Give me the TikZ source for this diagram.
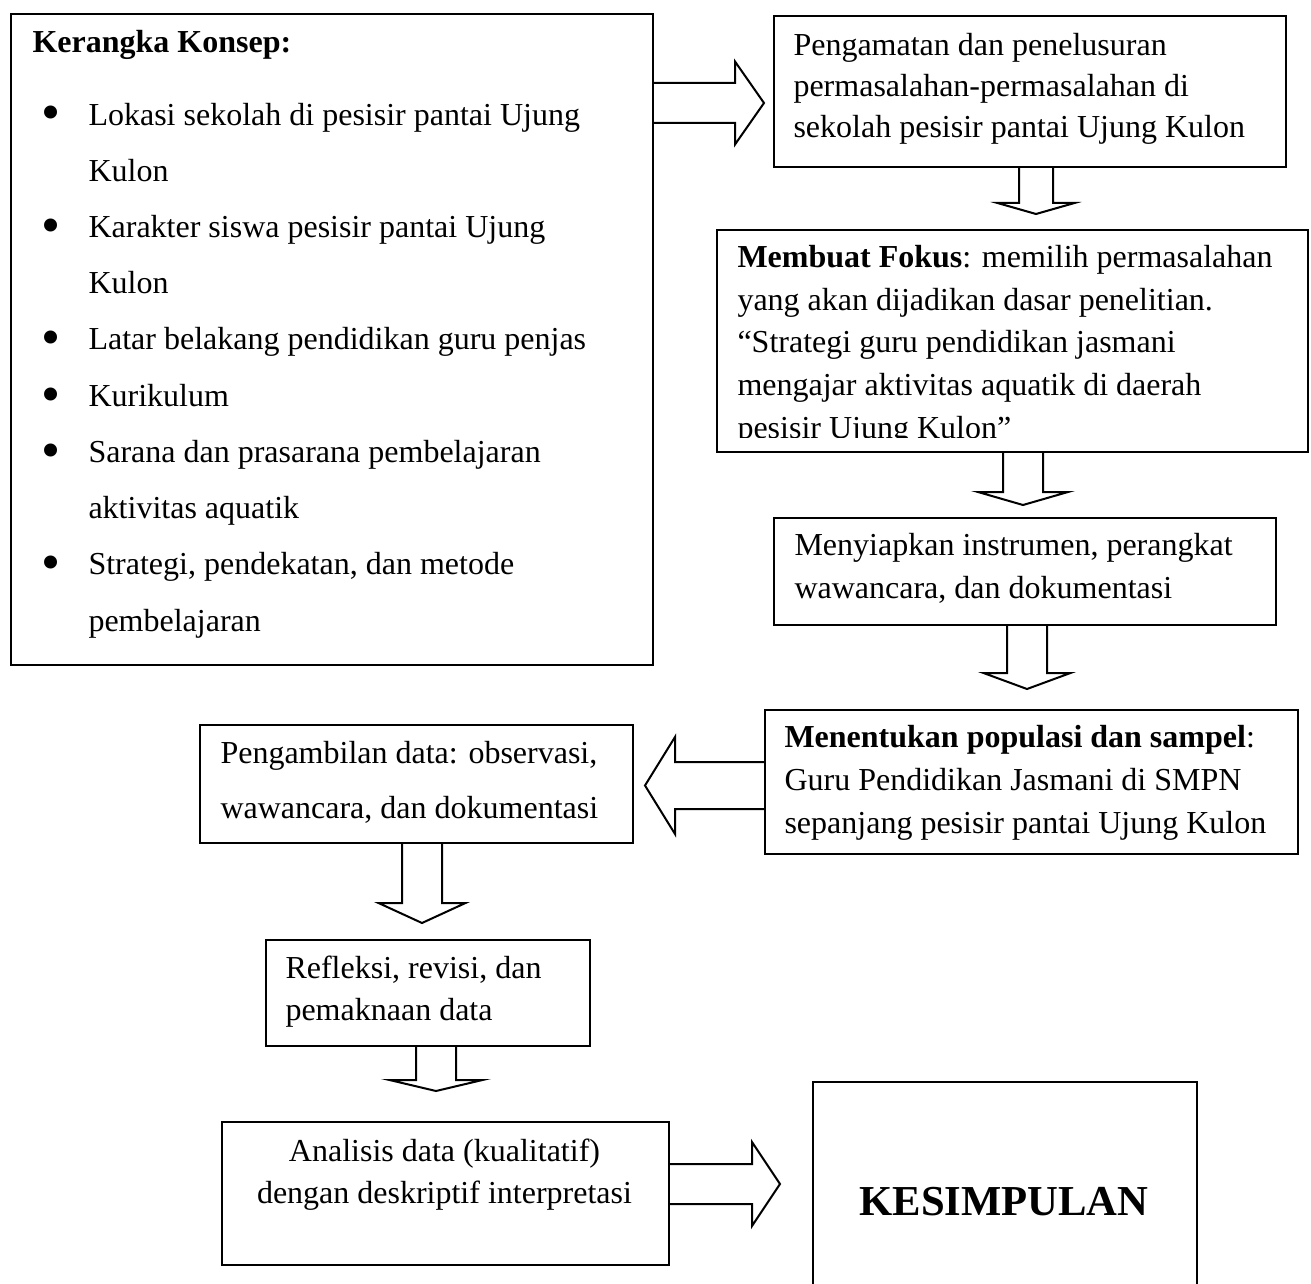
\documentclass[tikz,border=0pt]{standalone}
\usepackage{fontspec}
\setmainfont{Liberation Serif}
\usepackage{graphicx}
\newcommand\pxl[1]{#1*0.375pt}
\newcommand\bul{\makebox[17.625pt][l]{\raisebox{-2.2pt}{\scalebox{1.7}{\textbullet}}}}
\newcommand\ind{\hspace*{17.625pt}}
% block arrow: start point, angle, shaft length, shaft half width, head length, head half width
\newcommand\blkarrow[6]{%
  \draw[blockarrow, shift={(#1)}, rotate=#2]
    (0,-#4) -- (#3,-#4) -- (#3,-#6) -- ({#3+#5},0) -- (#3,#6) -- (#3,#4) -- (0,#4);}
\tikzset{
  box/.style={draw, line width=0.75pt, rectangle, inner sep=0pt, anchor=north west},
  blockarrow/.style={draw, line width=0.75pt, line join=miter},
  txt/.style={inner sep=0pt, anchor=base west, align=left},
}
\begin{document}
\begin{tikzpicture}[x=0.375pt, y=-0.375pt]
\clip (0,0) rectangle (1311,1284);
\fill[white] (0,0) rectangle (1311,1284);

% boxes
\node[box, minimum width=\pxl{642}, minimum height=\pxl{651}] (kk) at (10,13) {};
\node[box, minimum width=\pxl{512}, minimum height=\pxl{151}] (b2) at (773,15) {};
\node[box, minimum width=\pxl{591}, minimum height=\pxl{222}] (b3) at (716,229) {};
\node[box, minimum width=\pxl{502}, minimum height=\pxl{107}] (b4) at (773,517) {};
\node[box, minimum width=\pxl{533}, minimum height=\pxl{144}] (b5) at (764,709) {};
\node[box, minimum width=\pxl{433}, minimum height=\pxl{118}] (b6) at (199,724) {};
\node[box, minimum width=\pxl{324}, minimum height=\pxl{106}] (b7) at (265,939) {};
\node[box, minimum width=\pxl{447}, minimum height=\pxl{143}] (b8) at (221,1121) {};
\node[box, minimum width=\pxl{384}, minimum height=\pxl{260}] (kes) at (812,1081) {};

% block arrows
\blkarrow{kk.east |- 0,103}{0}{81}{20}{29}{41.5}
\blkarrow{b2.south -| 1036,0}{-90}{35}{17}{11}{38.5}
\blkarrow{b3.south -| 1023,0}{-90}{39}{20}{13}{45}
\blkarrow{b4.south -| 1027,0}{-90}{47}{20}{16}{43.5}
\blkarrow{b5.west |- 0,785.5}{180}{89}{23.5}{30}{48.5}
\blkarrow{b6.south -| 422,0}{-90}{59}{20}{20}{43.5}
\blkarrow{b7.south -| 436,0}{-90}{33}{20}{11}{46.5}
\blkarrow{b8.east |- 0,1184}{0}{82}{20}{28}{42}

% texts (multi-line nodes are placed by the baseline of their last line)
\node[txt, font=\fontsize{12pt}{14pt}\selectfont\bfseries] (kkt) at (32,53) {Kerangka Konsep:};
\node[txt, font=\fontsize{12pt}{21.08pt}\selectfont] (kkl) at (41,631) {%
\bul Lokasi sekolah di pesisir pantai Ujung\\
\ind Kulon\\
\bul Karakter siswa pesisir pantai Ujung\\
\ind Kulon\\
\bul Latar belakang pendidikan guru penjas\\
\bul Kurikulum\\
\bul Sarana dan prasarana pembelajaran\\
\ind aktivitas aquatik\\
\bul Strategi, pendekatan, dan metode\\
\ind pembelajaran};

\node[txt, font=\fontsize{12pt}{15.375pt}\selectfont] (b2t) at (793,138) {%
Pengamatan dan penelusuran\\
permasalahan-permasalahan di\\
sekolah pesisir pantai Ujung Kulon};

\begin{scope}
\clip (716,229) rectangle (1307,437);
\node[txt, font=\fontsize{12pt}{15.94pt}\selectfont] (b3t) at (737,438) {%
\textbf{Membuat Fokus}: memilih permasalahan\\
yang akan dijadikan dasar penelitian.\\
“Strategi guru pendidikan jasmani\\
mengajar aktivitas aquatik di daerah\\
pesisir Ujung Kulon”};
\end{scope}

\node[txt, font=\fontsize{12pt}{16.1pt}\selectfont] (b4t) at (794,598) {%
Menyiapkan instrumen, perangkat\\
wawancara, dan dokumentasi};

\node[txt, font=\fontsize{12pt}{15.94pt}\selectfont] (b5t) at (784,833) {%
\textbf{Menentukan populasi dan sampel}:\\
Guru Pendidikan Jasmani di SMPN\\
sepanjang pesisir pantai Ujung Kulon};

\node[txt, font=\fontsize{12pt}{20.6pt}\selectfont] (b6t) at (220,818) {%
Pengambilan data: observasi,\\
wawancara, dan dokumentasi};

\node[txt, font=\fontsize{12pt}{15.4pt}\selectfont] (b7t) at (285,1020) {%
Refleksi, revisi, dan\\
pemaknaan data};

\node[inner sep=0pt, anchor=base, align=center, font=\fontsize{12pt}{15.75pt}\selectfont] (b8t) at (444.5,1203) {%
Analisis data (kualitatif)\\
dengan deskriptif interpretasi};

\node[inner sep=0pt, anchor=base, font=\fontsize{16pt}{19pt}\selectfont\bfseries] (kest) at (1004,1215) {KESIMPULAN};
\end{tikzpicture}
\end{document}
